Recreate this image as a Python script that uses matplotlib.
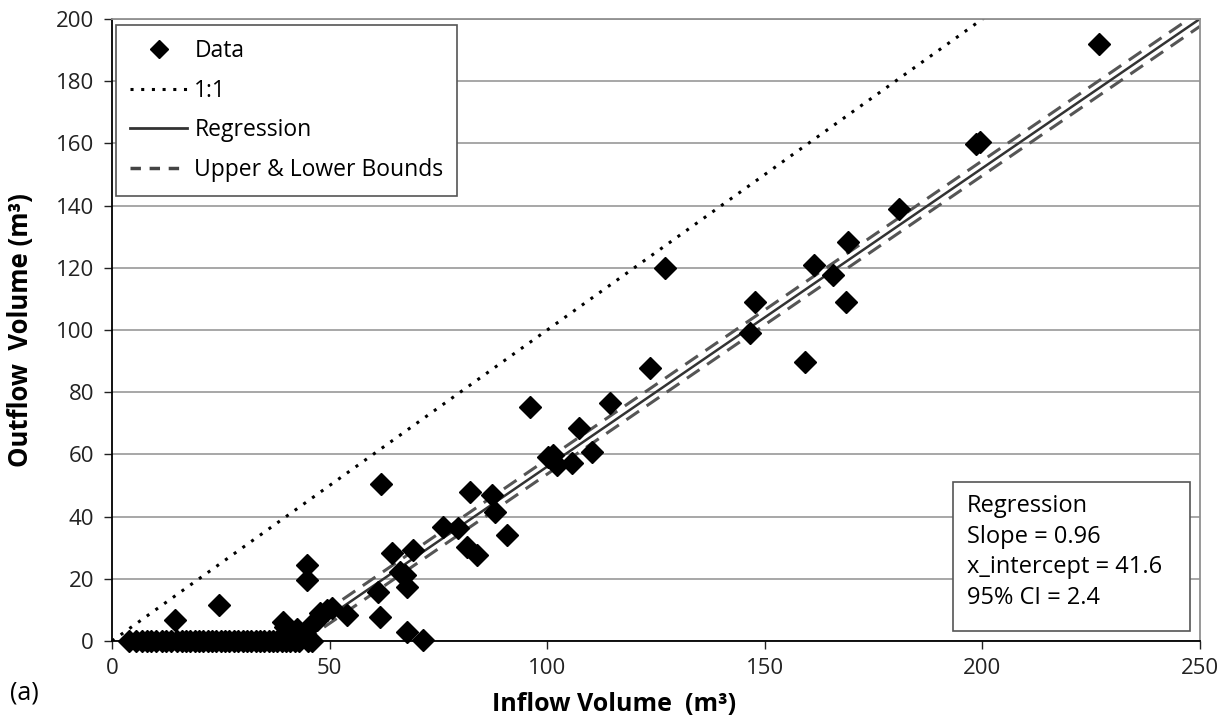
import numpy as np
import matplotlib.pyplot as plt
from matplotlib.lines import Line2D
from matplotlib.patches import Rectangle

zero_x = [4, 5.5, 7, 8, 9, 10, 11.5, 12.5, 13.5, 15, 16, 17, 18, 19, 20, 21, 22,
          23, 24, 25, 26, 27, 28, 29, 30, 31, 32, 33, 34, 35, 36, 37, 38, 39,
          40, 41, 42, 43, 45, 46]
inflow = zero_x + [
    14.4, 24.5, 39.3, 39.8, 40.5, 41.5, 42.5, 43.5, 44.8, 46.2, 47.1, 47.8,
    44.8, 44.8, 49.4, 50.6, 54, 61.1, 61.6, 61.8, 64.4, 66.2, 67.4, 67.8,
    69.2, 67.8, 71.5, 76.1, 79.5, 81.6, 83.9, 82.3, 87.4, 88, 90.8, 96.1,
    100.2, 101.4, 102.3, 105.7, 107.4, 110.3, 114.5, 123.7, 127.1, 146.7,
    147.8, 159.3, 161.2, 165.7, 168.7, 169.2, 180.9, 198.6, 199.5, 226.7]
outflow = [0] * len(zero_x) + [
    6.8, 11.6, 6.1, 4.5, 3, 2, 4, 1.5, 1.3, 5.8, 6.7, 9,
    24.4, 19.6, 10, 10.6, 8.4, 15.8, 7.7, 50.6, 28.3, 22.2, 21.2, 17.4,
    29.3, 2.9, 0.3, 36.7, 36.3, 30.2, 27.7, 47.9, 46.9, 41.5, 34, 75.2,
    59.2, 59.8, 56.6, 57.2, 68.5, 60.8, 76.5, 87.8, 119.9, 99,
    109, 89.7, 120.9, 117.7, 109, 128.3, 138.9, 159.8, 160.5, 192]

slope = 0.96
x_int = 41.6
ci = 2.4

plt.rcParams['font.family'] = ['Open Sans', 'DejaVu Sans']

fig = plt.figure(figsize=(12.28, 7.21), dpi=100)
ax = fig.add_axes([0.0912, 0.111, 0.886, 0.8626])

ax.set_xlim(0, 250)
ax.set_ylim(0, 200)
ax.set_yticks(range(0, 201, 20))
ax.set_xticks(range(0, 251, 50))
ax.grid(axis='y', color='#a0a0a0', lw=1.3)
ax.set_axisbelow(True)
for s in ['top', 'right']:
    ax.spines[s].set_color('#909090')
    ax.spines[s].set_linewidth(1.3)
for s in ['left', 'bottom']:
    ax.spines[s].set_color('black')
    ax.spines[s].set_linewidth(1.3)
ax.tick_params(direction='out', length=6, width=1, labelsize=16, colors='#222222')
ax.tick_params(axis='x', pad=6)
ax.tick_params(axis='y', pad=7)

# 1:1 line
ax.plot([0, 250], [0, 250], ls=(0, (1, 2.5)), color='black', lw=2.2)

# regression and bounds
xr = np.array([x_int, 250])
ax.plot(xr, slope * (xr - x_int), color='#333333', lw=1.8)
for d in (-ci, ci):
    xb = np.array([x_int - d / slope, 250])
    ax.plot(xb, slope * (xb - x_int) + d, color='#555555', lw=2.2,
            ls=(0, (5, 3)))

ax.plot(inflow, outflow, ls='none', marker='D', ms=11, color='black', clip_on=False)

ax.set_xlabel('Inflow Volume  (m³)', fontsize=18, fontweight='bold')
ax.set_ylabel('Outflow  Volume (m³)', fontsize=18.5, fontweight='bold')
ax.xaxis.set_label_coords(0.461, -0.082)
ax.yaxis.set_label_coords(-0.072, 0.5)

handles = [
    Line2D([], [], ls='none', marker='D', ms=9, color='black'),
    Line2D([], [], ls=(0, (1, 2.5)), color='black', lw=2.2),
    Line2D([], [], color='#333333', lw=2),
    Line2D([], [], color='#444444', lw=2.5, ls=(0, (3, 2.5))),
]
leg = ax.legend(handles, ['Data', '1:1', 'Regression', 'Upper & Lower Bounds'],
                loc='upper left', bbox_to_anchor=(0.004, 0.99), fontsize=16.5,
                fancybox=False, edgecolor='#555555', framealpha=1,
                handlelength=2.5, handletextpad=0.3, labelspacing=0.68,
                borderpad=0.6, borderaxespad=0)
leg.get_frame().set_linewidth(1.2)

ax.add_patch(Rectangle((0.773, 0.016), 0.218, 0.24, transform=ax.transAxes,
                       fc='white', ec='#555555', lw=1.2, zorder=5))
ax.text(0.786, 0.236, 'Regression\nSlope = 0.96\nx_intercept = 41.6\n95% CI = 2.4',
        transform=ax.transAxes, fontsize=17, va='top', ha='left',
        linespacing=1.36, zorder=6)

fig.text(0.008, 0.03, '(a)', fontsize=18)

fig.savefig('out.png', dpi=100)
